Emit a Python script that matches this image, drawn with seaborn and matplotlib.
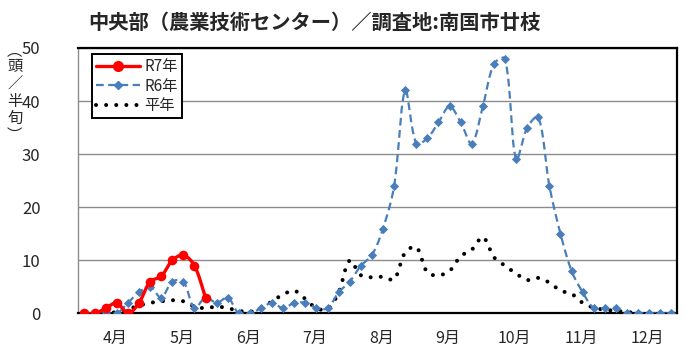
import numpy as np
import matplotlib
matplotlib.use("Agg")
import matplotlib.pyplot as plt
from matplotlib.lines import Line2D
import seaborn as sns

# ===============================
# DATA (頭/半旬, 4月第1半旬 〜 12月第6半旬)
# ===============================

months = ["4月", "5月", "6月", "7月", "8月", "9月", "10月", "11月", "12月"]

r7 = [0, 0, 1, 2, 0, 2, 6, 7, 10, 11, 9, 3]

r6 = [0, 0, 0, 0, 2, 4, 5, 3, 6, 6, 1, 3,
      2, 3, 0, 0, 1, 2, 1, 2, 2, 1, 1, 4,
      6, 9, 11, 16, 24, 42, 32, 33, 36, 39, 36, 32,
      39, 47, 48, 29, 35, 37, 24, 15, 8, 4, 1, 1,
      1, 0, 0, 0, 0, 0]

normal = [0, 0, 0, 0.3, 0.8, 1.5, 2.0, 2.3, 2.5, 2.3, 1.3, 1.0,
          1.3, 1.0, 0.5, 0.3, 1.0, 2.3, 3.6, 4.3, 2.7, 1.0, 0.8, 4.0,
          10.0, 7.2, 6.8, 6.9, 6.4, 11.5, 12.5, 7.7, 7.2, 8.0, 10.8, 12.0,
          14.4, 10.6, 9.0, 7.5, 6.3, 6.7, 5.8, 4.3, 3.7, 2.0, 1.1, 0.7,
          0.5, 0.3, 0, 0, 0, 0]

labels = ["R7年", "R6年", "平年"]

# 画面上の縮尺 (px / 半旬, px / 頭)
PX_X, PX_Y = 11.08, 5.3


def smooth(y, n=16):
    # Excel風スムージング (弦長で重み付けしたベジェ)
    y = np.asarray(y, dtype=float)
    P = np.column_stack([np.arange(len(y)) * PX_X, y * PX_Y])
    m = len(P)
    if m < 3:
        return P[:, 0] / PX_X, P[:, 1] / PX_Y
    E = np.vstack([P[0], P, P[-1]])
    L = np.linalg.norm(np.diff(E, axis=0), axis=1)
    out = []
    t = np.linspace(0, 1, n, endpoint=False)[:, None]
    for i in range(m - 1):
        p1, p2 = P[i], P[i + 1]
        d1 = E[i + 2] - E[i]
        d2 = E[i + 3] - E[i + 1]
        l0, l1, l2 = L[i], L[i + 1], L[i + 2]
        f1 = l1 / (l0 + l1) if l0 + l1 > 0 else 0
        f2 = l1 / (l1 + l2) if l1 + l2 > 0 else 0
        c1 = p1 + d1 * f1 / 3
        c2 = p2 - d2 * f2 / 3
        seg = ((1 - t) ** 3) * p1 + 3 * ((1 - t) ** 2) * t * c1 \
            + 3 * (1 - t) * t ** 2 * c2 + t ** 3 * p2
        out.append(seg)
    out.append(P[-1:])
    out = np.vstack(out)
    return out[:, 0] / PX_X, out[:, 1] / PX_Y


# ===============================
# STYLE
# ===============================

sns.set_style("white")
plt.rcParams["font.family"] = ["Noto Sans CJK JP", "DejaVu Sans"]

RED = "#FF0000"
BLUE = "#4A7EBB"
DOTS = (0, (0.01, 2.5))
DASH = (0, (3.5, 2.0))

fig = plt.figure(figsize=(7.0, 3.63), dpi=100)
ax = fig.add_axes([0.1114, 0.1364, 0.8557, 0.7314])

# 平年
sx, sy = smooth(normal)
sns.lineplot(x=sx, y=sy, ax=ax, color="black", lw=2.9, estimator=None, sort=False,
             linestyle=DOTS, dash_capstyle="round", zorder=3)

# R6
sx, sy = smooth(r6)
sns.lineplot(x=sx, y=sy, ax=ax, color=BLUE, lw=1.6, estimator=None, sort=False,
             linestyle=DASH, zorder=4)
sns.scatterplot(x=np.arange(len(r6)), y=r6, ax=ax, color=BLUE, marker="D", s=22,
                edgecolor=BLUE, linewidth=0, zorder=5)

# R7
sx, sy = smooth(r7)
sns.lineplot(x=sx, y=sy, ax=ax, color=RED, lw=2.4, estimator=None, sort=False, zorder=6)
sns.scatterplot(x=np.arange(len(r7)), y=r7, ax=ax, color=RED, marker="o", s=48,
                edgecolor=RED, linewidth=0, zorder=7)

# ===============================
# AXES
# ===============================

n = len(r6)
ax.set_xlim(-0.5, n - 0.5)
ax.set_ylim(0, 50)
ax.set_yticks([0, 10, 20, 30, 40, 50])
ax.set_xticks([6 * k + 2.5 + 0.35 for k in range(len(months))])
ax.set_xticklabels(months)
ax.set_xticks([6 * k - 0.5 for k in range(1, len(months))], minor=True)
ax.tick_params(axis="x", which="major", length=0, pad=12, labelsize=11.5)
ax.tick_params(axis="x", which="minor", direction="in", length=5, width=1.2, color="black")
ax.tick_params(axis="y", length=0, pad=27, labelsize=12)
ax.set_xlabel("")
ax.set_ylabel("")

ax.grid(axis="y", color="#8c8c8c", lw=1.0)
ax.set_axisbelow(True)

for side in ["top", "right", "bottom"]:
    ax.spines[side].set_color("black")
    ax.spines[side].set_linewidth(1.6)
ax.spines["left"].set_color("#8c8c8c")
ax.spines["left"].set_linewidth(1.0)

# ===============================
# LEGEND
# ===============================

handles = [
    Line2D([], [], color=RED, lw=2.4, marker="o", markersize=7),
    Line2D([], [], color=BLUE, lw=1.6, linestyle=DASH, marker="D", markersize=4),
    Line2D([], [], color="black", lw=2.9, linestyle=DOTS, dash_capstyle="round"),
]
leg = ax.legend(handles, labels, loc="upper left", bbox_to_anchor=(0.023, 0.977),
                fontsize=11, frameon=True, fancybox=False, framealpha=1,
                edgecolor="black", handlelength=2.9, handletextpad=0.3,
                labelspacing=0.18, borderpad=0.25, borderaxespad=0)
leg.get_frame().set_linewidth(1.4)

# ===============================
# TITLE / UNIT
# ===============================

fig.text(0.126, 0.938, "中央部（農業技術センター）／調査地:南国市廿枝",
         fontsize=14.6, fontweight="bold", ha="left", va="center")
fig.text(0.021, 0.745, "\n".join("︵頭／半旬︶"), fontsize=11, ha="center", va="center",
         linespacing=1.0)

fig.savefig("out.png", dpi=100)
